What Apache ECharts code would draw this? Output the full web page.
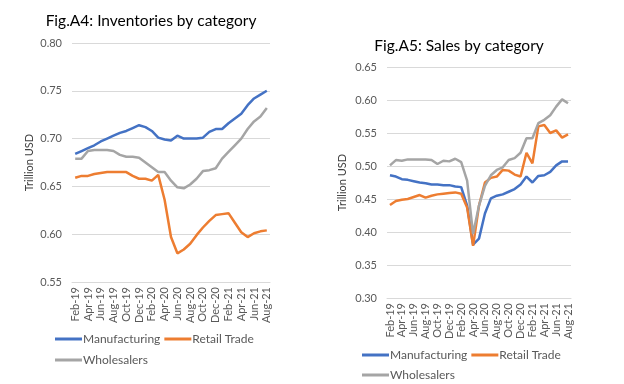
<!DOCTYPE html>
<html>
<head>
<meta charset="utf-8">
<script src="https://cdn.jsdelivr.net/npm/echarts@6/dist/echarts.min.js"></script>
<style>html,body{margin:0;padding:0;background:#fff;}#c{width:624px;height:384px;}</style>
</head>
<body>
<div id="c"></div>
<script>
const months = ['Feb-19','Mar-19','Apr-19','May-19','Jun-19','Jul-19','Aug-19','Sep-19','Oct-19','Nov-19','Dec-19',
  'Jan-20','Feb-20','Mar-20','Apr-20','May-20','Jun-20','Jul-20','Aug-20','Sep-20','Oct-20','Nov-20','Dec-20',
  'Jan-21','Feb-21','Mar-21','Apr-21','May-21','Jun-21','Jul-21','Aug-21'];
const seriesNames = ['Manufacturing','Retail Trade','Wholesalers'];
// Fig.A4 inventories (trillion USD)
const invManufacturing = [0.684,0.687,0.690,0.693,0.697,0.700,0.703,0.706,0.708,0.711,0.714,0.712,0.708,0.701,0.699,0.698,0.703,0.700,0.700,0.700,0.701,0.707,0.710,0.710,0.716,0.721,0.726,0.735,0.742,0.746,0.750];
const invRetail = [0.659,0.661,0.661,0.663,0.664,0.665,0.665,0.665,0.665,0.661,0.658,0.658,0.656,0.662,0.636,0.597,0.580,0.584,0.590,0.599,0.607,0.614,0.620,0.621,0.622,0.612,0.602,0.597,0.601,0.603,0.604];
const invWholesalers = [0.679,0.679,0.687,0.688,0.688,0.688,0.687,0.683,0.681,0.681,0.680,0.675,0.670,0.665,0.665,0.656,0.649,0.648,0.652,0.658,0.666,0.667,0.669,0.679,0.686,0.693,0.700,0.710,0.718,0.723,0.732];
// Fig.A5 sales (trillion USD)
const salesManufacturing = [0.486,0.484,0.480,0.479,0.477,0.475,0.474,0.472,0.472,0.471,0.471,0.469,0.468,0.440,0.381,0.390,0.428,0.451,0.455,0.457,0.461,0.465,0.472,0.484,0.475,0.485,0.486,0.491,0.501,0.507,0.507];
const salesRetail = [0.441,0.447,0.449,0.450,0.453,0.456,0.452,0.455,0.457,0.458,0.459,0.460,0.458,0.437,0.379,0.440,0.475,0.482,0.484,0.494,0.493,0.487,0.484,0.520,0.504,0.560,0.562,0.550,0.554,0.543,0.548];
const salesWholesalers = [0.501,0.509,0.508,0.510,0.510,0.510,0.510,0.509,0.503,0.508,0.507,0.511,0.506,0.478,0.397,0.440,0.470,0.486,0.494,0.498,0.509,0.512,0.520,0.542,0.542,0.565,0.570,0.577,0.590,0.601,0.595];

const colors = ['#4472C4','#ED7D31','#A5A5A5'];
const FONT = 'Lato, "Open Sans", sans-serif';
const txt = '#595959';

function xAxis(gi){
  return {type:'category', gridIndex:gi, data:months, boundaryGap:true,
    axisLine:{lineStyle:{color:'#D9D9D9'}},
    axisTick:{interval:1, length:5, lineStyle:{color:'#D9D9D9'}},
    axisLabel:{interval:1, rotate:90, color:txt, fontSize:11, fontFamily:FONT, margin:5}};
}
function yAxis(gi,min,max){
  return {type:'value', gridIndex:gi, min:min, max:max, interval:0.05,
    name:'Trillion USD', nameLocation:'middle', nameGap:gi===0?37:39,
    nameTextStyle:{color:'#404040', fontSize:11, fontFamily:FONT},
    axisLine:{show:false}, axisTick:{show:false},
    splitLine:{lineStyle:{color:'#D9D9D9'}},
    axisLabel:{color:txt, fontSize:11, fontFamily:FONT, margin:10, formatter:v=>v.toFixed(2)}};
}
function ser(name, data, gi, ci){
  return {name:name, type:'line', xAxisIndex:gi, yAxisIndex:gi, data:data, showSymbol:false,
    lineStyle:{width:2.5, color:colors[ci]}, itemStyle:{color:colors[ci]}, animation:false};
}
function legend(left, top, names){
  return {left:left, top:top, data:names, itemWidth:27, itemHeight:3, itemGap:4, icon:'rect',
    textStyle:{color:txt, fontSize:12, fontFamily:FONT, padding:[0,0,0,-4]}, padding:0};
}

const chart = echarts.init(document.getElementById('c'), null, {renderer:'canvas'});
chart.setOption({
  animation:false,
  color:colors,
  title:[
    {text:'Fig.A4: Inventories by category', left:146, top:8, textAlign:'center',
      textStyle:{fontSize:15.5, fontWeight:'normal', color:'#000', fontFamily:FONT}},
    {text:'Fig.A5: Sales by category', left:454, top:33, textAlign:'center',
      textStyle:{fontSize:15.5, fontWeight:'normal', color:'#000', fontFamily:FONT}}
  ],
  grid:[
    {left:72, right:354, top:43, bottom:102},
    {left:387, right:53, top:67, bottom:86}
  ],
  xAxis:[xAxis(0), xAxis(1)],
  yAxis:[yAxis(0,0.55,0.80), yAxis(1,0.30,0.65)],
  legend:[
    legend(55, 333, ['Manufacturing','Retail Trade']),
    legend(55, 354, ['Wholesalers']),
    legend(362, 349, ['Manufacturing','Retail Trade']),
    legend(362, 369, ['Wholesalers'])
  ],
  series:[
    ser(seriesNames[0], invManufacturing, 0, 0),
    ser(seriesNames[1], invRetail, 0, 1),
    ser(seriesNames[2], invWholesalers, 0, 2),
    ser(seriesNames[0], salesManufacturing, 1, 0),
    ser(seriesNames[1], salesRetail, 1, 1),
    ser(seriesNames[2], salesWholesalers, 1, 2)
  ]
});
</script>
</body>
</html>
